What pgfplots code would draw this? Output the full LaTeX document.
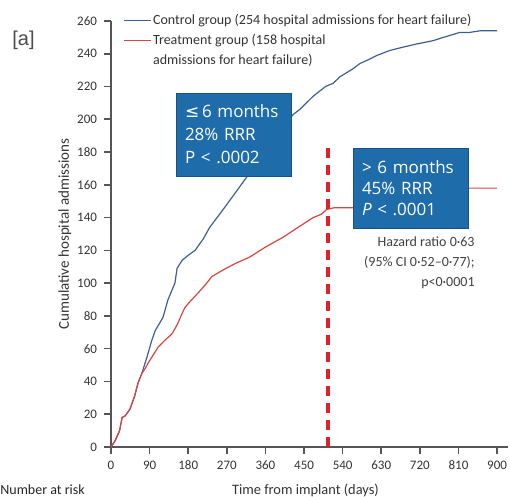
\documentclass[border=0pt]{standalone}
\usepackage{fontspec}
\setmainfont{Carlito}
\newfontfamily\boxfont{Open Sans}
\newfontfamily\symfont{DejaVu Sans}
\newfontfamily\arialfont{Liberation Sans}
\usepackage{pgfplots}
\pgfplotsset{compat=1.18}
\definecolor{ctrl}{HTML}{3D5F91}
\definecolor{trt}{HTML}{D64541}
\definecolor{boxblue}{HTML}{1F6CAB}
\definecolor{dashred}{HTML}{E0202A}
\definecolor{axgray}{HTML}{555555}
\begin{document}
\begin{tikzpicture}[x=0.5pt,y=0.5pt]
\path[use as bounding box] (0,0) rectangle (510,497);
\begin{axis}[
  at={(55.5pt,25pt)}, anchor=south west,
  scale only axis, width=198.4pt, height=213pt,
  xmin=0, xmax=925, ymin=0, ymax=260,
  axis lines=left,
  axis line style={-, axgray, line width=0.9pt},
  xtick={0,90,...,900}, ytick={0,20,...,260},
  tick align=outside, major tick length=3.5pt,
  tick style={axgray, line width=0.8pt},
  tick label style={font=\fontsize{6.5}{7}\selectfont, text=black!80},
  /pgf/number format/assume math mode=true,
  xlabel={Time from implant (days)},
  ylabel={Cumulative hospital admissions},
  xlabel style={at={(axis description cs:0.49,-0.101)}, anchor=center, font=\fontsize{7.2}{8}\selectfont, text=black!80},
  ylabel style={at={(axis description cs:-0.116,0.5)}, anchor=center, font=\fontsize{7.5}{8}\selectfont, text=black!80},
  legend style={at={(axis description cs:0.030,1.017)}, anchor=north west, draw=none, fill=none, inner sep=0pt,
    font=\fontsize{7}{8}\selectfont, text=black!80,
    nodes={inner ysep=0pt, inner xsep=0.8pt, text height=5pt, text depth=1.5pt}, row sep=3.5pt},
  legend cell align=left,
  legend image code/.code={\draw[#1] (0pt,0pt) -- (13.5pt,0pt);},
]
\addplot[ctrl, line width=0.6pt] coordinates {
(0,0) (10,4) (20,10) (26,18) (33,19) (44,23) (55,31) (63,39) (72,45) (84,55)
(95,65) (103,71) (112,75) (121,79) (133,90) (149,100) (154,109) (166,114) (180,117)
(196,120) (215,127) (230,134) (250,141) (270,148) (295,157) (317,165) (340,175)
(360,183) (385,192) (405,197) (425,203) (440,206) (471,214) (500,220) (518,222)
(534,226) (565,231) (580,234) (597,236) (620,239) (650,242) (680,244) (713,246)
(751,248) (775,250) (813,253) (835,253) (860,254) (900,254)};
\addlegendentry{Control group (254 hospital admissions for heart failure)}
\addplot[trt, line width=0.6pt] coordinates {
(0,0) (10,4) (20,10) (26,18) (33,19) (44,23) (55,31) (63,39) (72,45) (80,48)
(86,51) (98,56) (110,61) (125,65) (142,69) (155,75) (165,81) (172,85) (185,89)
(203,94) (220,99) (235,104) (261,108) (290,112) (324,116) (360,122) (401,128)
(430,133) (471,140) (490,142) (503,145) (520,146) (580,146) (620,149) (680,152)
(740,155) (800,157) (830,158) (900,158)};
\addlegendentry{Treatment group (158 hospital}
\addplot[dashred, line width=2pt, dash pattern=on 5pt off 3.5pt, forget plot] coordinates {(506,0) (506,184)};
\addlegendimage{empty legend}
\addlegendentry{admissions for heart failure)}
\end{axis}
\node[fill=boxblue, draw=boxblue!75!black, line width=0.4pt, text width=48.5pt, inner xsep=4.5pt,
  minimum height=41.5pt, align=left, text=white, font=\boxfont\fontsize{8.5}{11.5}\selectfont]
  at (233.5,362.5) {{\symfont≤}\,6 months\\28\% RRR\\P < .0002};
\node[fill=boxblue, draw=boxblue!75!black, line width=0.4pt, text width=48.5pt, inner xsep=4.5pt,
  minimum height=40pt, align=left, text=white, font=\boxfont\fontsize{8.5}{10.5}\selectfont]
  at (410.5,309) {> 6 months\\45\% RRR\\\textit{P} < .0001};
\node[anchor=north east, align=right, inner sep=0pt, font=\fontsize{7}{10}\selectfont, text=black!75]
  at (475,261) {Hazard ratio 0·63\\(95\% CI 0·52–0·77);\\p<0·0001};
\node[anchor=west, inner sep=0pt, font=\arialfont\fontsize{10}{12}\selectfont, text=black!70] at (12,457) {[a]};
\node[anchor=south west, inner sep=0pt, font=\fontsize{7}{8}\selectfont, text=black!85] at (0,2) {Number at risk};
\end{tikzpicture}
\end{document}
